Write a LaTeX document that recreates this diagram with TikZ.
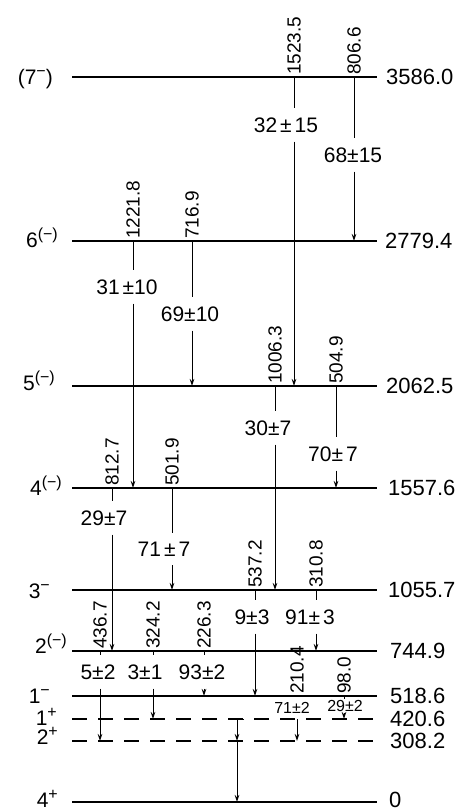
\documentclass[tikz,border=0pt]{standalone}
\usepackage{fontspec}
\setmainfont{Liberation Sans}
\usetikzlibrary{arrows.meta}
\newcommand{\jpi}[2]{#1\raisebox{0.36em}{\fontsize{16}{16}\selectfont #2}}

\begin{document}
\begin{tikzpicture}[x=1pt, y=-1pt, >={Stealth[length=7pt,width=4.5pt]},
    level/.style={line width=1.2pt},
    dlevel/.style={line width=1.2pt, dash pattern=on 15pt off 11pt},
    trans/.style={line width=1pt},
    spin/.style={anchor=base east, inner sep=0pt, font=\fontsize{21}{24}\selectfont},
    energy/.style={anchor=west, inner sep=0pt, font=\fontsize{22}{26}\selectfont},
    egam/.style={rotate=90, anchor=west, inner sep=2pt, font=\fontsize{19}{22}\selectfont},
    inten/.style={inner xsep=1pt, inner ysep=9pt, font=\fontsize{21}{24}\selectfont},
    sinten/.style={inner xsep=1pt, inner ysep=5pt, font=\fontsize{16}{18}\selectfont}]

    \useasboundingbox (0,0) rectangle (461,812);

    % Levels
    \draw[level] (72,77) coordinate (a3586) -- (377,77);
    \draw[level] (72,241) coordinate (a2779) -- (377,241);
    \draw[level] (72,386) coordinate (a2062) -- (377,386);
    \draw[level] (72,488) coordinate (a1557) -- (377,488);
    \draw[level] (72,590) coordinate (a1055) -- (377,590);
    \draw[level] (72,651) coordinate (a744) -- (377,651);
    \draw[level] (72,696) coordinate (a518) -- (377,696);
    \draw[dlevel] (72,719) coordinate (a420) -- (377,719);
    \draw[dlevel] (72,741) coordinate (a308) -- (377,741);
    \draw[level] (72,802) coordinate (a0) -- (377,802);

    % Spins
    \node[spin] (s3586) at (53,84) {(7\raisebox{0.36em}{\fontsize{16}{16}\selectfont −})};
    \node[spin] (s2779) at (58,247) {\jpi{6}{(−)}};
    \node[spin] (s2062) at (55,390) {\jpi{5}{(−)}};
    \node[spin] (s1557) at (62,495) {\jpi{4}{(−)}};
    \node[spin] (s1055) at (50,598) {\jpi{3}{−}};
    \node[spin] (s744) at (67,653) {\jpi{2}{(−)}};
    \node[spin] (s518) at (50,703) {\jpi{1}{−}};
    \node[spin] (s420) at (57,725) {\jpi{1}{+}};
    \node[spin] (s308) at (58,744) {\jpi{2}{+}};
    \node[spin] (s0) at (58,807) {\jpi{4}{+}};

    % Energies
    \node[energy] (e3586) at (386,77) {3586.0};
    \node[energy] (e2779) at (385,241) {2779.4};
    \node[energy] (e2062) at (386,386) {2062.5};
    \node[energy] (e1557) at (388,488) {1557.6};
    \node[energy] (e1055) at (388,590) {1055.7};
    \node[energy] (e744) at (390,651) {744.9};
    \node[energy] (e518) at (390,696) {518.6};
    \node[energy] (e420) at (390,719) {420.6};
    \node[energy] (e308) at (390,741) {308.2};
    \node[energy] (e0) at (389,800) {0};

    % Gamma rays
    \node[egam] (g1523) at (294,77) {1523.5};
    \node[inten] (i1523) at (286,125) {32\kern3pt±\kern3pt15};
    \draw[trans] (g1523.west) -- (g1523.west |- i1523.north);
    \draw[trans,->] (g1523.west |- i1523.south) -- (g1523.west |- a2062);

    \node[egam] (g806) at (354,77) {806.6};
    \node[inten] (i806) at (353,155) {68±15};
    \draw[trans] (g806.west) -- (g806.west |- i806.north);
    \draw[trans,->] (g806.west |- i806.south) -- (g806.west |- a2779);

    \node[egam] (g1221) at (133,241) {1221.8};
    \node[inten] (i1221) at (127,287) {31\kern3pt±10};
    \draw[trans] (g1221.west) -- (g1221.west |- i1221.north);
    \draw[trans,->] (g1221.west |- i1221.south) -- (g1221.west |- a1557);

    \node[egam] (g716) at (192,241) {716.9};
    \node[inten] (i716) at (190,314) {69±10};
    \draw[trans] (g716.west) -- (g716.west |- i716.north);
    \draw[trans,->] (g716.west |- i716.south) -- (g716.west |- a2062);

    \node[egam] (g1006) at (275,386) {1006.3};
    \node[inten] (i1006) at (268,428) {30±7};
    \draw[trans] (g1006.west) -- (g1006.west |- i1006.north);
    \draw[trans,->] (g1006.west |- i1006.south) -- (g1006.west |- a1055);

    \node[egam] (g504) at (336,386) {504.9};
    \node[inten] (i504) at (333,454) {70±\kern3pt7};
    \draw[trans] (g504.west) -- (g504.west |- i504.north);
    \draw[trans,->] (g504.west |- i504.south) -- (g504.west |- a1557);

    \node[egam] (g812) at (112,488) {812.7};
    \node[inten] (i812) at (104,518) {29±7};
    \draw[trans] (g812.west) -- (g812.west |- i812.north);
    \draw[trans,->] (g812.west |- i812.south) -- (g812.west |- a744);

    \node[egam] (g501) at (172,488) {501.9};
    \node[inten] (i501) at (164,549) {71\kern3pt±\kern3pt7};
    \draw[trans] (g501.west) -- (g501.west |- i501.north);
    \draw[trans,->] (g501.west |- i501.south) -- (g501.west |- a1055);

    \node[egam] (g537) at (255,590) {537.2};
    \node[inten] (i537) at (252,617) {9±3};
    \draw[trans] (g537.west) -- (g537.west |- i537.north);
    \draw[trans,->] (g537.west |- i537.south) -- (g537.west |- a518);

    \node[egam] (g310) at (316,590) {310.8};
    \node[inten] (i310) at (310,617) {91±\kern3pt3};
    \draw[trans] (g310.west) -- (g310.west |- i310.north);
    \draw[trans,->] (g310.west |- i310.south) -- (g310.west |- a744);

    \node[egam] (g436) at (100,651) {436.7};
    \node[inten] (i436) at (98,672) {5±2};
    \draw[trans] (g436.west) -- (g436.west |- i436.north);
    \draw[trans,->] (g436.west |- i436.south) -- (g436.west |- a308);

    \node[egam] (g324) at (153,651) {324.2};
    \node[inten] (i324) at (145,672) {3±1};
    \draw[trans] (g324.west) -- (g324.west |- i324.north);
    \draw[trans,->] (g324.west |- i324.south) -- (g324.west |- a420);

    \node[egam] (g226) at (204,651) {226.3};
    \node[inten] (i226) at (202,672) {93±2};
    \draw[trans] (g226.west) -- (g226.west |- i226.north);
    \draw[trans,->] (g226.west |- i226.south) -- (g226.west |- a518);

    \node[egam] (g210) at (297,696) {210.4};
    \node[sinten] (i210) at (292,708) {71±2};
    \draw[trans] (g210.west) -- (g210.west |- i210.north);
    \draw[trans,->] (g210.west |- i210.south) -- (g210.west |- a308);

    \node[egam] (g98) at (344,696) {98.0};
    \node[sinten, inner ysep=1pt] (i98) at (345,706) {29±2};
    \draw[trans] (g98.west) -- (g98.west |- i98.north);
    \draw[trans,->] (g98.west |- i98.south) -- (g98.west |- a420);

    % Unlabelled cascade
    \coordinate (c420) at (237,719);
    \draw[trans,->] (c420) -- (c420 |- a308);
    \draw[trans,->] (c420 |- a308) -- (c420 |- a0);
    \draw[trans] ([xshift=-7pt]c420) -- ([xshift=7pt]c420);

\end{tikzpicture}
\end{document}
